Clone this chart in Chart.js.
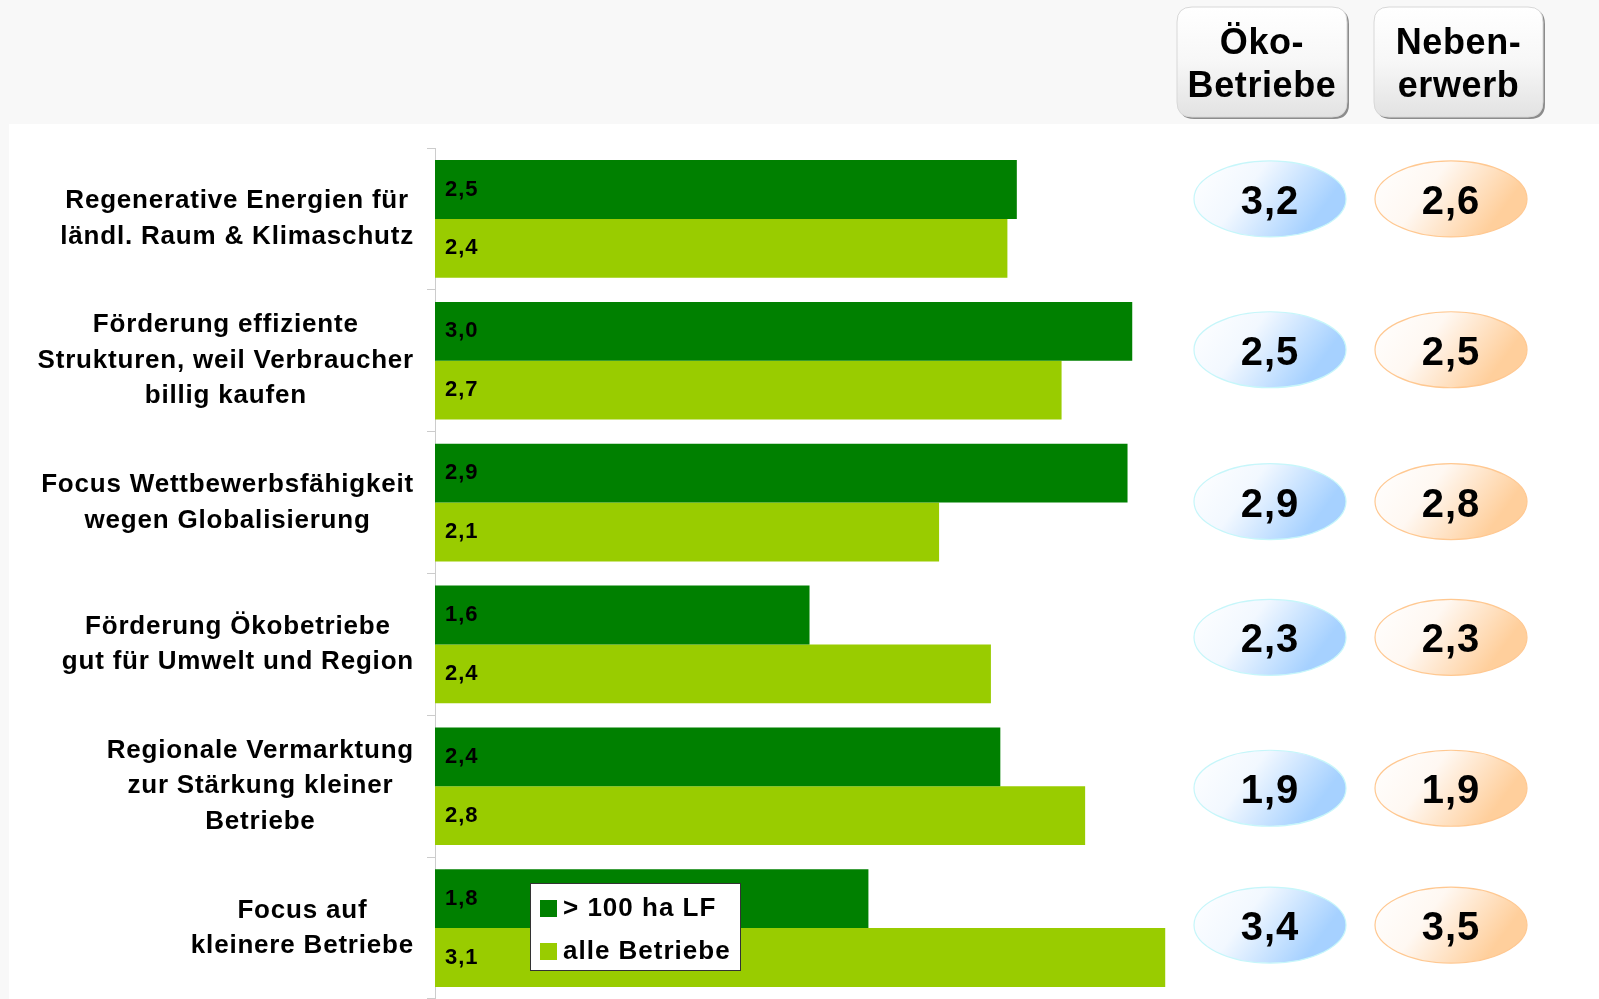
<!DOCTYPE html>
<html>
<head>
<meta charset="utf-8">
<script src="https://cdn.jsdelivr.net/npm/chart.js@4.4.0/dist/chart.umd.min.js"></script>
<style>
  html, body { margin: 0; padding: 0; background: #f8f8f8; }
  #wrap { width: 1599px; height: 999px; }
</style>
</head>
<body>
<div id="wrap"><canvas id="bewertung" width="1599" height="999"></canvas></div>
<script>
// <![CDATA[

var kategorien = [
  ["Regenerative Energien für", "ländl. Raum & Klimaschutz"],
  ["Förderung effiziente", "Strukturen, weil Verbraucher", "billig kaufen"],
  ["Focus Wettbewerbsfähigkeit", "wegen Globalisierung"],
  ["Förderung Ökobetriebe", "gut für Umwelt und Region"],
  ["Regionale Vermarktung", "zur Stärkung kleiner", "Betriebe"],
  ["Focus auf", "kleinere Betriebe"]
];
var serien = ["> 100 ha LF", "alle Betriebe"];
var gross = [2.47, 2.96, 2.94, 1.59, 2.40, 1.84];   // > 100 ha LF
var alle = [2.43, 2.66, 2.14, 2.36, 2.76, 3.10];    // alle Betriebe
var spalten = [["Öko-", "Betriebe"], ["Neben-", "erwerb"]];
var oeko = [3.2, 2.5, 2.9, 2.3, 1.9, 3.4];
var neben = [2.6, 2.5, 2.8, 2.3, 1.9, 3.5];

var schrift = '"Liberation Sans", Arial, sans-serif';

function zahl(v) {
  return v.toFixed(1).replace('.', ',');
}

var hintergrund = {
  id: 'hintergrund',
  beforeDraw: function (chart) {
    var ctx = chart.ctx;
    ctx.save();
    ctx.fillStyle = '#f8f8f8';
    ctx.fillRect(0, 0, chart.width, chart.height);
    ctx.fillStyle = '#ffffff';
    ctx.fillRect(9, 124, chart.width - 9, chart.height - 124);
    ctx.restore();
  }
};

function rundRechteck(ctx, x, y, w, h, r) {
  ctx.beginPath();
  ctx.moveTo(x + r, y);
  ctx.lineTo(x + w - r, y);
  ctx.quadraticCurveTo(x + w, y, x + w, y + r);
  ctx.lineTo(x + w, y + h - r);
  ctx.quadraticCurveTo(x + w, y + h, x + w - r, y + h);
  ctx.lineTo(x + r, y + h);
  ctx.quadraticCurveTo(x, y + h, x, y + h - r);
  ctx.lineTo(x, y + r);
  ctx.quadraticCurveTo(x, y, x + r, y);
  ctx.closePath();
}

var beschriftung = {
  id: 'beschriftung',
  afterDraw: function (chart) {
    var ctx = chart.ctx;
    var yScale = chart.scales.y;
    ctx.save();
    ctx.fillStyle = '#000';

    // Kategorien links, Block rechtsbuendig, Zeilen zentriert
    ctx.font = 'bold 26px ' + schrift;
    ctx.letterSpacing = '0.8px';
    ctx.textAlign = 'center';
    ctx.textBaseline = 'middle';
    kategorien.forEach(function (zeilen, i) {
      var breit = 0;
      zeilen.forEach(function (z) { breit = Math.max(breit, ctx.measureText(z).width); });
      var mx = yScale.right - 21 - breit / 2;
      var my = yScale.getPixelForValue(i);
      zeilen.forEach(function (z, k) {
        ctx.fillText(z, mx, my + (k - (zeilen.length - 1) / 2) * 35.5);
      });
    });

    // Werte in den Balken
    ctx.font = 'bold 22px ' + schrift;
    ctx.letterSpacing = '1px';
    ctx.textAlign = 'left';
    chart.data.datasets.forEach(function (ds, d) {
      chart.getDatasetMeta(d).data.forEach(function (bar, i) {
        ctx.fillText(zahl(ds.data[i]), bar.base + 10, bar.y);
      });
    });

    // Legende
    var lx = 530, ly = 883;
    ctx.fillStyle = '#fff';
    ctx.fillRect(lx, ly, 211, 88);
    ctx.strokeStyle = '#333';
    ctx.lineWidth = 1;
    ctx.strokeRect(lx + 0.5, ly + 0.5, 210, 87);
    ctx.font = 'bold 26px ' + schrift;
    chart.data.datasets.forEach(function (ds, d) {
      var zy = ly + 25.5 + d * 43;
      ctx.fillStyle = ds.backgroundColor;
      ctx.fillRect(lx + 10, zy - 8.5, 17, 17);
      ctx.fillStyle = '#000';
      ctx.fillText(ds.label, lx + 33, zy);
    });

    // Kopfkaesten
    ctx.textAlign = 'center';
    ctx.letterSpacing = '0.6px';
    ctx.font = 'bold 36px ' + schrift;
    var kaesten = [[1177, 170], [1374, 169]];
    spalten.forEach(function (zeilen, s) {
      var kx = kaesten[s][0], kw = kaesten[s][1], ky = 7, kh = 110;
      rundRechteck(ctx, kx + 2, ky + 2, kw, kh, 15);
      ctx.fillStyle = '#8c8c8c';
      ctx.fill();
      var g = ctx.createLinearGradient(0, ky, 0, ky + kh);
      g.addColorStop(0, '#ffffff');
      g.addColorStop(0.5, '#f7f7f7');
      g.addColorStop(1, '#e2e2e2');
      rundRechteck(ctx, kx, ky, kw, kh, 15);
      ctx.fillStyle = g;
      ctx.fill();
      ctx.strokeStyle = '#d8d8d8';
      ctx.lineWidth = 1;
      ctx.stroke();
      ctx.fillStyle = '#000';
      ctx.textBaseline = 'alphabetic';
      ctx.fillText(zeilen[0], kx + kw / 2, ky + 47);
      ctx.fillText(zeilen[1], kx + kw / 2, ky + 90);
    });

    // Ellipsen mit Durchschnittswerten
    var versatz = [-20, -11, -1, -7, 2, -3];
    var saeulen = [
      { x: 1270, werte: oeko, hell: '#f2f8ff', farbe: '#a6d1ff', rand: '#c6f6fa' },
      { x: 1451, werte: neben, hell: '#fff8f2', farbe: '#ffcf9c', rand: '#ffc891' }
    ];
    ctx.font = 'bold 40px ' + schrift;
    ctx.letterSpacing = '1px';
    ctx.textBaseline = 'middle';
    saeulen.forEach(function (sp) {
      sp.werte.forEach(function (v, i) {
        var cx = sp.x, cy = yScale.getPixelForValue(i) + versatz[i];
        var g = ctx.createLinearGradient(cx - 76, cy - 38, cx + 30, cy + 40);
        g.addColorStop(0, '#ffffff');
        g.addColorStop(0.45, sp.hell);
        g.addColorStop(1, sp.farbe);
        ctx.beginPath();
        ctx.ellipse(cx, cy, 76, 38, 0, 0, Math.PI * 2);
        ctx.fillStyle = g;
        ctx.fill();
        ctx.strokeStyle = sp.rand;
        ctx.lineWidth = 1.2;
        ctx.stroke();
        ctx.fillStyle = '#000';
        ctx.fillText(zahl(v), cx, cy + 4);
      });
    });

    ctx.restore();
  }
};

var config = {
  type: 'bar',
  data: {
    labels: kategorien,
    datasets: [
      {
        label: serien[0],
        backgroundColor: '#008000',
        borderWidth: 0,
        data: gross
      },
      {
        label: serien[1],
        backgroundColor: '#99cc00',
        borderWidth: 0,
        data: alle
      }
    ]
  },
  options: {
    indexAxis: 'y',
    responsive: false,
    animation: false,
    devicePixelRatio: 1,
    layout: { padding: { left: 427, top: 148, right: 104, bottom: 0 } },
    datasets: { bar: { categoryPercentage: 0.83, barPercentage: 1.0 } },
    plugins: {
      legend: { display: false },
      tooltip: { enabled: false }
    },
    scales: {
      x: {
        display: false,
        min: 0,
        max: 4.5
      },
      y: {
        afterFit: function (s) { s.width = 8; },
        ticks: { display: false },
        border: { color: '#cccccc', width: 1 },
        grid: {
          offset: true,
          drawOnChartArea: false,
          drawTicks: true,
          tickLength: 8,
          color: '#cccccc'
        }
      }
    }
  },
  plugins: [hintergrund, beschriftung]
};

var ctx = document.getElementById('bewertung').getContext('2d');
var bewertungChart = new Chart(ctx, config);

// ]]>
</script>
</body>
</html>
